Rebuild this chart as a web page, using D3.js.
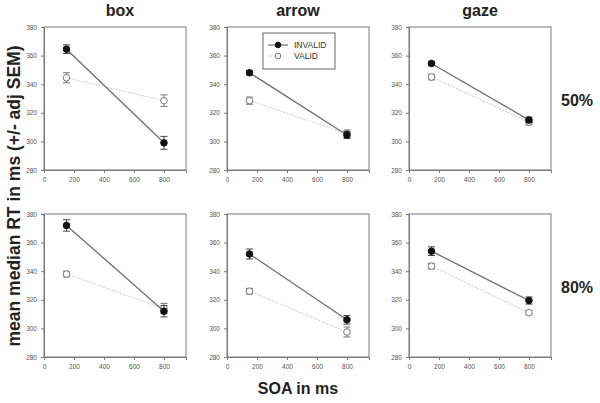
<!DOCTYPE html>
<html>
<head>
<meta charset="utf-8">
<script src="https://cdn.jsdelivr.net/npm/d3@7"></script>
<style>
  body { margin: 0; background: #fff; }
  svg { display: block; font-family: "Liberation Sans", Arial, sans-serif; }
</style>
</head>
<body>
<svg id="chart" width="600" height="403"></svg>
<script>
(function(){
// cue types (columns) and cue validity (rows)
var cues = ['box', 'arrow', 'gaze']
var validity = ['50%', '80%']
var soa = [150, 800]
var xTicks = [0, 200, 400, 600, 800]
var yTicks = [280, 300, 320, 340, 360, 380]

// mean median RT, order: [50% box, 50% arrow, 50% gaze, 80% box, 80% arrow, 80% gaze]
var invalidRT = [[364.5, 299], [348, 304.5], [354.5, 315], [372, 312], [352, 306], [354, 319.5]]
var invalidErr = [[3, 4.5], [1.5, 2.5], [1.5, 2], [4, 4], [3.5, 3], [3, 2.5]]
var validRT = [[344.5, 328.5], [328.5, 305.5], [345, 313.5], [338, 314], [326, 297.5], [343.5, 311]]
var validErr = [[3.5, 4], [2.5, 2.5], [2, 2], [2, 3.5], [2, 3.5], [2, 1.5]]

var svg = d3.select('#chart')
var colX = [44, 227, 409], rowY = [27, 214]
var pw = 142, ph = 143

var x = d3.scaleLinear().domain([0, 947]).range([0, pw])
var y = d3.scaleLinear().domain([280, 380]).range([ph, 0])

var frameCol = '#7a7a7a', tickCol = '#555'

function drawSeries(g, vals, errs, filled) {
    var pts = soa.map(function(s, i) { return {x: s, y: vals[i], e: errs[i]} })
    g.append('path')
        .attr('d', d3.line().x(d => x(d.x)).y(d => y(d.y))(pts))
        .attr('fill', 'none')
        .attr('stroke', filled ? '#6e6e6e' : '#c8c8c8')
        .attr('stroke-width', filled ? 1.3 : 1.1)
        .attr('stroke-dasharray', filled ? null : '1.5,1.5')
    var eb = g.selectAll(null).data(pts).enter().append('g')
        .attr('stroke', filled ? '#444' : '#777').attr('stroke-width', 1)
    eb.append('line').attr('x1', d => x(d.x)).attr('x2', d => x(d.x))
        .attr('y1', d => y(d.y - d.e)).attr('y2', d => y(d.y + d.e))
    eb.append('line').attr('x1', d => x(d.x) - 3.5).attr('x2', d => x(d.x) + 3.5)
        .attr('y1', d => y(d.y + d.e)).attr('y2', d => y(d.y + d.e))
    eb.append('line').attr('x1', d => x(d.x) - 3.5).attr('x2', d => x(d.x) + 3.5)
        .attr('y1', d => y(d.y - d.e)).attr('y2', d => y(d.y - d.e))
    g.selectAll(null).data(pts).enter().append('circle')
        .attr('cx', d => x(d.x)).attr('cy', d => y(d.y)).attr('r', 3.3)
        .attr('fill', filled ? '#111' : '#fff')
        .attr('stroke', filled ? '#111' : '#777').attr('stroke-width', 1)
}

validity.forEach(function(v, r) {
    cues.forEach(function(c, ci) {
        var k = r * 3 + ci
        var g = svg.append('g').attr('transform', 'translate(' + colX[ci] + ',' + rowY[r] + ')')

        g.append('rect').attr('width', pw).attr('height', ph)
            .attr('fill', 'none').attr('stroke', frameCol).attr('stroke-width', 1)

        var xa = g.append('g').attr('transform', 'translate(0,' + ph + ')')
            .call(d3.axisBottom(x).tickValues(xTicks).tickSize(3).tickPadding(4))
        var ya = g.append('g')
            .call(d3.axisLeft(y).tickValues(yTicks).tickSize(3).tickPadding(4))
        ;[xa, ya].forEach(function(a) {
            a.select('.domain').attr('stroke', frameCol)
            a.selectAll('.tick line').attr('stroke', frameCol)
            a.selectAll('.tick text').attr('fill', tickCol)
                .style('font-size', '6.5px').style('font-family', 'Liberation Sans, Arial, sans-serif')
        })

        drawSeries(g, validRT[k], validErr[k], false)
        drawSeries(g, invalidRT[k], invalidErr[k], true)

        if (r === 0) {
            svg.append('text').attr('x', colX[ci] + pw / 2 + (ci === 0 ? 5 : 0)).attr('y', 16)
                .attr('text-anchor', 'middle').attr('font-weight', 'bold')
                .attr('font-size', 16).attr('fill', '#222').text(c)
        }
    })
    svg.append('text').attr('x', 577).attr('y', rowY[r] + 79)
        .attr('text-anchor', 'middle').attr('font-weight', 'bold')
        .attr('font-size', 16).attr('fill', '#222').text(v)
})

// legend in arrow / 50% panel
var lg = svg.append('g').attr('transform', 'translate(263,33)')
lg.append('rect').attr('width', 72).attr('height', 36)
    .attr('fill', '#fff').attr('stroke', '#666').attr('stroke-width', 1)
var legendItems = [{name: 'INVALID', filled: true}, {name: 'VALID', filled: false}]
legendItems.forEach(function(d, i) {
    var yy = 12 + i * 11
    lg.append('line').attr('x1', 5).attr('x2', 25).attr('y1', yy).attr('y2', yy)
        .attr('stroke', d.filled ? '#555' : '#c8c8c8')
        .attr('stroke-dasharray', d.filled ? null : '1.5,1.5')
    lg.append('circle').attr('cx', 15).attr('cy', yy).attr('r', 2.8)
        .attr('fill', d.filled ? '#111' : '#fff').attr('stroke', d.filled ? '#111' : '#777')
    lg.append('text').attr('x', 31).attr('y', yy + 3)
        .attr('font-size', 8.5).attr('fill', '#333').text(d.name)
})

// shared axis titles
svg.append('text').attr('transform', 'translate(20,196) rotate(-90)')
    .attr('text-anchor', 'middle').attr('font-weight', 'bold')
    .attr('font-size', 17.5).attr('fill', '#222')
    .text('mean median RT in ms (+/- adj SEM)')
svg.append('text').attr('x', 298).attr('y', 394)
    .attr('text-anchor', 'middle').attr('font-weight', 'bold')
    .attr('font-size', 16).attr('fill', '#222').text('SOA in ms')
})()
</script>
</body>
</html>
